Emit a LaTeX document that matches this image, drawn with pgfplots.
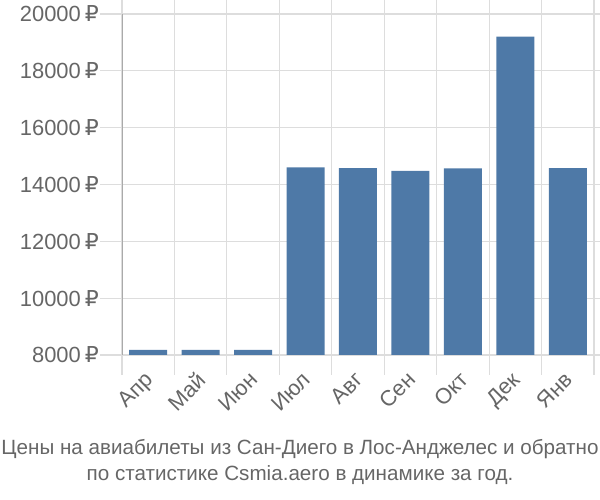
\documentclass[border=0pt]{standalone}
\usepackage{pgfplots}
\pgfplotsset{compat=1.18}
\usepackage{fontspec}
\setmainfont{Liberation Sans}
\newfontfamily\rub{DejaVu Sans}
\newcommand{\R}{\hspace{4bp}{\rub ₽}}
\definecolor{barblue}{HTML}{4E79A7}
\definecolor{gridgrey}{HTML}{DDDDDD}
\definecolor{axgrey}{HTML}{AAAAAA}
\definecolor{txtgrey}{HTML}{666666}
\begin{document}
\begin{tikzpicture}
\useasboundingbox (0,0) rectangle (600bp,500bp);
\begin{axis}[
  at={(122bp,145bp)}, anchor=south west,
  scale only axis, width=472bp, height=341bp,
  xmin=-0.5, xmax=8.5, ymin=8000, ymax=20000,
  scaled y ticks=false,
  ybar, bar width=38bp,
  xtick={0,...,8},
  xticklabels={Апр,Май,Июн,Июл,Авг,Сен,Окт,Дек,Янв},
  minor xtick={-0.5,0.5,...,8.5},
  ytick={8000,10000,...,20000},
  yticklabels={{8000\R},{10000\R},{12000\R},{14000\R},{16000\R},{18000\R},{20000\R}},
  ymajorgrids, xminorgrids,
  grid style={gridgrey, line width=1.2bp},
  minor grid style={gridgrey, line width=1.2bp},
  tick align=outside,
  major tick length=22bp, minor tick length=20bp,
  major x tick style={draw=none},
  ytick style={gridgrey, line width=1.2bp},
  minor x tick style={gridgrey, line width=1.2bp},
  axis line style={draw=none},
  tick label style={font=\fontsize{22}{24}\selectfont, text=txtgrey},
  xticklabel style={rotate=45, anchor=north east, inner sep=0pt, xshift=1.5bp, yshift=8bp},
  yticklabel style={inner sep=0pt, xshift=-1bp},
]
\addplot[fill=barblue, draw=none] coordinates {
 (0,8180) (1,8180) (2,8180) (3,14600) (4,14580) (5,14480) (6,14570) (7,19200) (8,14580)};
\draw[axgrey, line width=1.5bp] (axis cs:-0.5,20000) -- ([yshift=-20bp]axis cs:-0.5,8000);
\end{axis}
\node[align=center, text=txtgrey, font=\fontsize{20.7}{26}\selectfont] at (300bp,38bp)
 {Цены на авиабилеты из Сан-Диего в Лос-Анджелес и обратно\\по статистике Csmia.aero в динамике за год.};
\end{tikzpicture}
\end{document}
